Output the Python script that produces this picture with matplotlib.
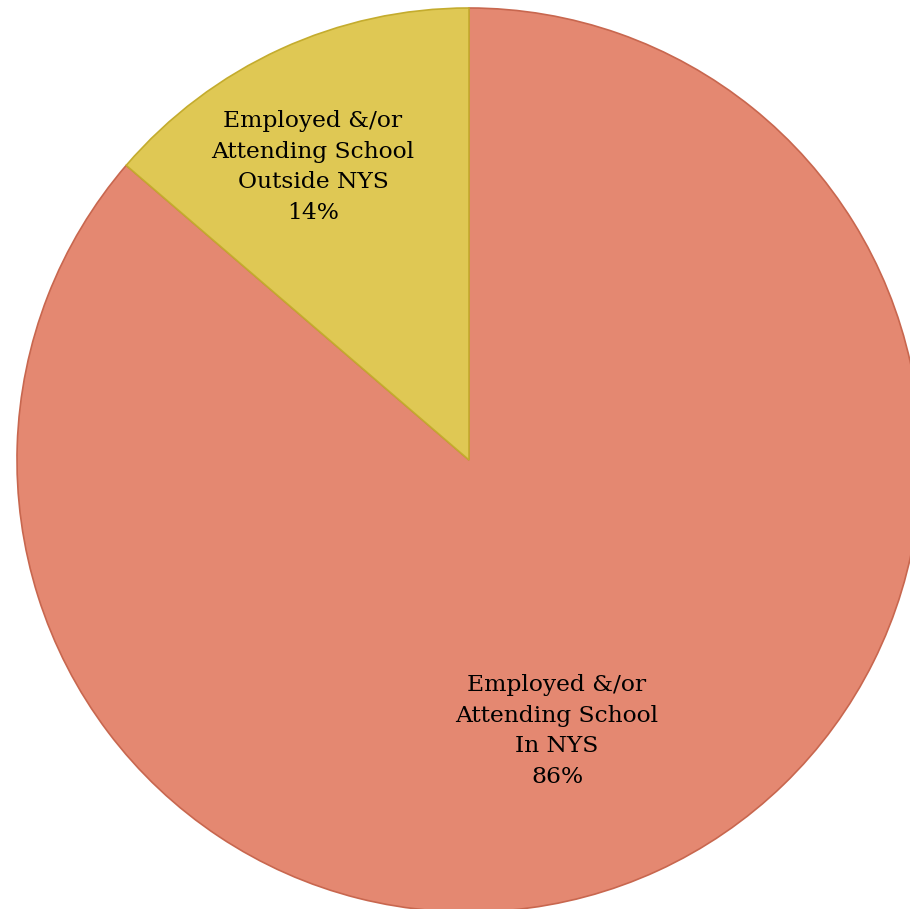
import matplotlib.pyplot as plt

etiquetas = ["Employed &/or\nAttending School\nIn NYS\n86%",
             "Employed &/or\nAttending School\nOutside NYS\n14%"]
valores = [86.3, 13.7]
cores = ["#E48871", "#DFC854"]
bordas = ["#C8674F", "#C4AC2E"]

# centro e raio do pie em pixels
cx, cy, r = 469, 460, 452
W, H = 910, 909

fig = plt.figure(figsize=(W / 100, H / 100), dpi=100)
ax = fig.add_axes([0, 0, 1, 1])

fatias, _ = ax.pie(valores, colors=cores, startangle=90, counterclock=False,
                   radius=1)
for f, b in zip(fatias, bordas):
    f.set_edgecolor(b)
    f.set_linewidth(1.2)

ax.set_xlim(-cx / r, (W - cx) / r)
ax.set_ylim((cy - H) / r, cy / r)
ax.set_aspect("auto")
ax.axis("off")

# posicoes dos textos (pixels)
pos = [(557, 731), (313, 167)]
for txt, (px, py) in zip(etiquetas, pos):
    ax.text((px - cx) / r, (cy - py) / r, txt, ha="center", va="center",
            fontsize=16.8, family="DejaVu Serif", linespacing=1.5, color="black")

fig.savefig("out.png", dpi=100)
